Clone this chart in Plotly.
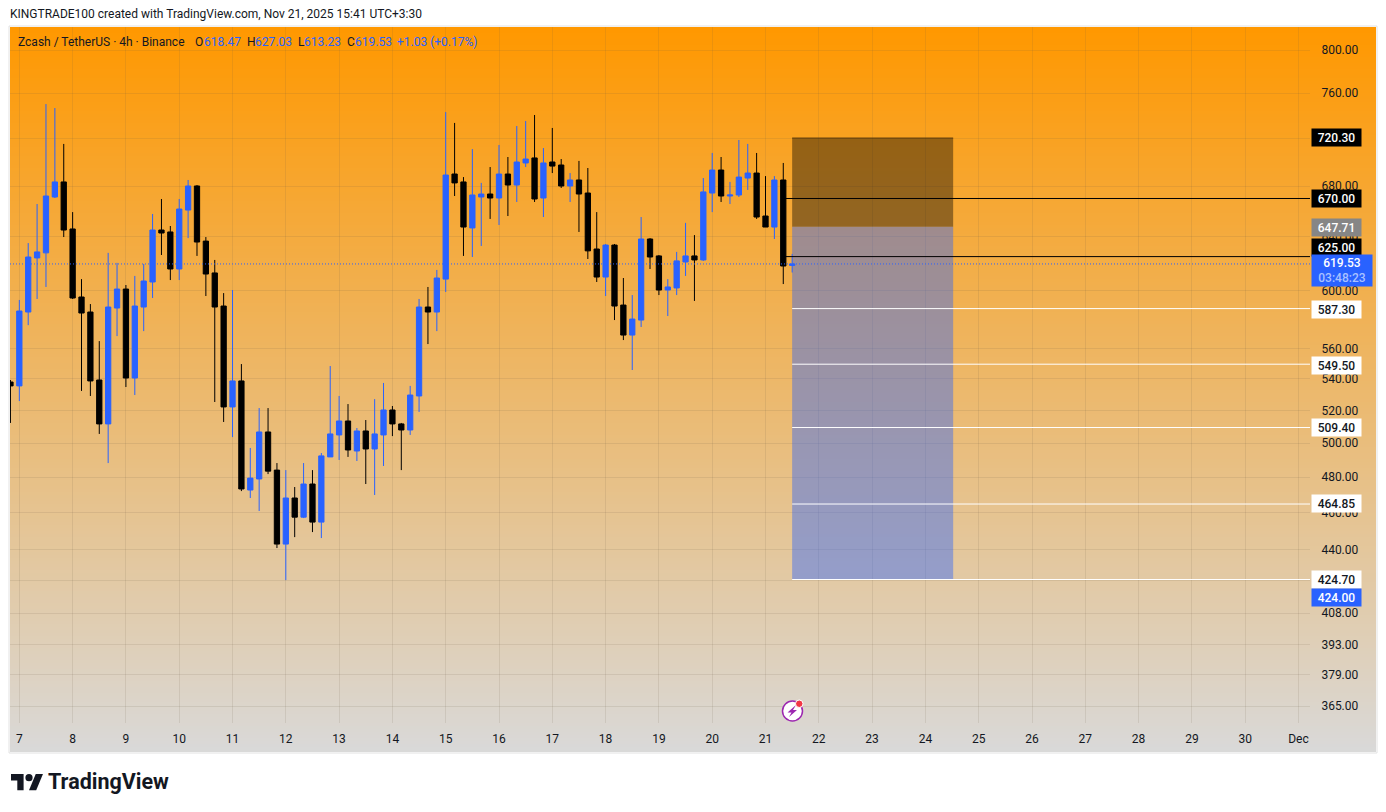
import plotly.graph_objects as go
import pandas as pd

START = "2025-11-06 20:00"
open_ = [537.9,535.4,584.9,624.0,627.8,671.2,683.4,646.0,595.5,584.9,539.2,511.6,587.7,601.2,540.5,588.4,606.3,645.2,643.7,615.8,660.8,680.1,636.7,612.9,589.1,
522.1,538.6,472.7,479.0,506.7,484.1,443.1,468.2,457.6,476.1,454.9,491.8,504.9,513.4,495.3,507.3,496.5,504.9,520.2,511.6,507.9,529.0,588.4,584.9,
608.4,689.9,683.4,646.8,671.2,673.6,670.4,689.9,680.9,699.1,703.3,670.4,699.9,697.4,680.1,685.0,674.4,630.7,609.9,633.7,589.8,569.0,579.3,638.3,625.5,600.5,602.0,621.0,625.5,622.5,674.4,693.2,672.0,672.8,686.6,690.7,656.1,647.5,685.0,618.47]
high = [539.2,593.4,635.2,665.6,750.2,746.6,715.2,659.2,608.4,590.5,564.9,627.8,620.3,604.1,610.7,619.5,657.7,669.6,648.3,669.6,685.0,680.9,639.8,622.5,598.3,
600.5,549.6,497.1,521.4,521.4,488.2,484.1,474.4,488.2,484.1,494.1,548.3,529.0,523.9,509.1,514.0,527.0,537.3,522.7,512.2,535.4,594.1,602.7,615.1,
743.0,733.4,687.4,710.8,682.6,695.7,714.3,704.1,730.7,735.1,740.4,711.7,729.0,702.4,690.7,700.8,694.9,659.2,634.5,634.5,609.2,596.9,655.3,639.0,626.2,608.4,628.5,650.7,641.3,686.6,707.5,704.1,683.4,718.6,715.2,707.5,688.2,688.2,699.1,627.03]
low = [512.2,525.8,575.8,594.1,602.7,670.4,639.8,594.1,532.2,529.0,505.5,488.2,568.3,534.7,529.6,571.7,594.8,626.2,607.7,607.7,639.0,625.5,596.2,525.2,512.8,
503.6,472.1,468.2,461.0,481.8,441.0,424.4,446.8,457.1,449.5,446.3,491.8,490.0,491.8,489.4,476.1,469.9,486.5,504.2,484.1,504.9,519.0,562.9,571.7,
599.1,672.0,625.5,624.7,633.0,653.8,649.1,656.1,667.2,695.7,667.2,655.3,690.7,678.5,667.2,643.7,623.2,606.3,596.2,579.3,565.6,545.7,574.5,615.8,596.9,582.1,596.9,610.7,592.7,621.8,659.2,667.2,665.6,671.2,676.9,653.8,647.5,638.3,604.8,613.23]
close = [535.4,585.6,624.7,628.5,672.0,683.4,645.2,594.8,584.2,538.6,511.6,588.4,601.2,540.5,589.1,607.0,645.2,642.9,615.8,661.6,680.1,636.0,612.1,588.4,522.1,
538.6,473.3,479.5,506.7,483.5,443.1,468.2,457.6,476.1,454.9,492.4,505.5,513.4,495.9,507.3,496.5,505.5,520.2,511.6,507.9,529.6,588.4,584.9,609.2,
689.1,682.6,647.5,672.8,673.6,670.4,689.9,680.9,699.9,702.4,669.6,699.1,696.5,680.1,685.0,673.6,629.3,609.9,633.7,589.1,569.0,580.0,638.3,624.7,600.5,602.7,621.8,625.5,622.5,675.3,693.2,672.0,672.8,687.4,690.7,655.3,647.5,685.0,618.0,619.53]

times = pd.date_range(START, periods=len(open_), freq="4h")

price_ticks = [800,760,720,680,640,600,560,540,520,500,480,460,440,424,408,393,379,365]
hidden_ticks = [720, 424]
day_ticks = pd.date_range("2025-11-07", "2025-12-01", freq="D")
day_labels = [str(d.day) for d in day_ticks[:-1]] + ["Dec"]

BLUE, BLACK = "#2962FF", "#000000"
L, R, T, B = 10, 1310, 27, 723
W, H = 1386, 812
px = lambda x: (x - L) / (R - L)
py = lambda y: (B - y) / (B - T)

fig = go.Figure(go.Candlestick(
    x=times, open=open_, high=high, low=low, close=close,
    increasing=dict(line=dict(color=BLUE, width=1), fillcolor=BLUE),
    decreasing=dict(line=dict(color=BLACK, width=1), fillcolor=BLACK),
    whiskerwidth=0, showlegend=False, hoverinfo="skip"))

shapes = []
# background gradient (painter-style bands)
top_c, bot_c = (255, 152, 0), (217, 217, 217)
FT, FB, FL, FR = 27, 752, 10, 1376
for y in range(FT, FB, 3):
    f = (y - FT) / (FB - FT)
    c = tuple(round(a + (b - a) * f) for a, b in zip(top_c, bot_c))
    shapes.append(dict(type="rect", xref="paper", yref="paper", layer="below",
                       x0=px(FL), x1=px(FR), y0=py(y), y1=py(FB),
                       line=dict(width=0), fillcolor=f"rgb{c}"))
shapes.append(dict(type="rect", xref="paper", yref="paper", layer="below",
                   x0=px(FL - 1), x1=px(FR + 1), y0=py(FT - 1), y1=py(FB + 1),
                   line=dict(width=1, color="#e2e2e2"), fillcolor="rgba(0,0,0,0)"))

ZX0, ZX1 = "2025-11-21 12:00", "2025-11-24 12:30"
def dline(price, x0, color, width=1):
    return dict(type="line", xref="x", yref="y", x0=x0, x1="2025-12-01 05:11",
                y0=price, y1=price, line=dict(color=color, width=width))

shapes += [
    dict(type="rect", xref="x", yref="y", x0=ZX0, x1=ZX1, y0=647.71, y1=720.3,
         fillcolor="rgba(0,0,0,0.40)", line=dict(width=0)),
    dict(type="rect", xref="x", yref="y", x0=ZX0, x1=ZX1, y0=424.7, y1=647.71,
         fillcolor="rgba(41,98,255,0.42)", line=dict(width=0)),
    dict(type="line", xref="x", yref="y", x0=ZX0, x1=ZX1, y0=720.3, y1=720.3,
         line=dict(color="rgba(80,50,10,0.8)", width=1)),
    dict(type="line", xref="x", yref="y", x0="2025-11-06 19:48", x1="2025-12-01 05:11",
         y0=619.53, y1=619.53, line=dict(color=BLUE, width=1, dash="1px,2px")),
    dline(670, "2025-11-21 08:30", "#000000"),
    dline(625, "2025-11-21 08:30", "#000000"),
]
for p in [587.3, 549.5, 509.4, 464.85, 424.7]:
    shapes.append(dline(p, ZX0, "#ffffff"))

# TradingView logo
s = 0.9; ox, oy = 11, 770.5
def lx(v): return px(ox + v * s)
def ly(v): return py(oy + v * s)
def poly(pts):
    return "M" + " L".join(f"{lx(a):.5f},{ly(b):.5f}" for a, b in pts) + " Z"
shapes += [
    dict(type="path", xref="paper", yref="paper", fillcolor="#131722", line=dict(width=0),
         path=poly([(0,4),(14,4),(14,22),(7,22),(7,11),(0,11)])),
    dict(type="path", xref="paper", yref="paper", fillcolor="#131722", line=dict(width=0),
         path=poly([(27.5,4),(35.5,4),(28,22),(20,22)])),
    dict(type="circle", xref="paper", yref="paper", fillcolor="#131722", line=dict(width=0),
         x0=lx(16), x1=lx(24), y0=ly(12), y1=ly(4)),
    # lightning marker
    dict(type="circle", xref="paper", yref="paper", fillcolor="#ffffff",
         line=dict(color="#9C27B0", width=1.5), x0=px(782.5), x1=px(802.5), y0=py(721), y1=py(701)),
    dict(type="path", xref="paper", yref="paper", fillcolor="#9C27B0", line=dict(width=0),
         path="M" + " L".join(f"{px(a):.5f},{py(b):.5f}" for a, b in
                              [(796,705),(787.5,712.5),(791.5,712.5),(789,717),(797,710),(793,710)]) + " Z"),
    dict(type="circle", xref="paper", yref="paper", fillcolor="#F23645", line=dict(color="#ffffff", width=1),
         x0=px(795.5), x1=px(803), y0=py(707.5), y1=py(700)),
]

FONT = "Roboto, Arial, sans-serif"
ann = []
def label(txt, y, bg, fg, w=49, h=17):
    ann.append(dict(xref="paper", yref="paper", x=px(1311), y=py(y), xanchor="left", yanchor="middle",
                    text=txt, showarrow=False, bgcolor=bg, width=w, height=h, align="center", valign="middle",
                    borderpad=0, font=dict(family=FONT, size=12, color=fg, weight=500)))
label("720.30", 138, "#000000", "#ffffff")
label("670.00", 199, "#000000", "#ffffff")
label("647.71", 227, "#868686", "#ffffff")
label("625.00", 247, "#000000", "#ffffff")
label("619.53<br><span style='color:#a9c1ff'>03:48:23</span>", 270.5, BLUE, "#ffffff", w=60, h=31)
label("587.30", 309, "#ffffff", "#131722")
label("549.50", 365, "#ffffff", "#131722")
label("509.40", 427, "#ffffff", "#131722")
label("464.85", 504, "#ffffff", "#131722")
label("424.70", 579, "#ffffff", "#131722")
label("424.00", 597, BLUE, "#ffffff")

def text(x, y, t, size=12, color="#131722", weight=None):
    ann.append(dict(xref="paper", yref="paper", x=px(x), y=py(y), xanchor="left", yanchor="middle",
                    text=t, showarrow=False, font=dict(family=FONT, size=size, color=color, weight=weight)))
text(8, 14, "KINGTRADE100 created with TradingView.com, Nov 21, 2025 15:41 UTC+3:30", 12)
text(16, 42, "Zcash / TetherUS · 4h · Binance", 12)
OHLC = BLUE
text(193, 42, "O", 12); text(202, 42, "618.47", 12, OHLC)
text(245, 42, "H", 12); text(253, 42, "627.03", 12, OHLC)
text(296, 42, "L", 12); text(302, 42, "613.23", 12, OHLC)
text(345, 42, "C", 12); text(353, 42, "619.53", 12, OHLC)
text(395, 42, "+1.03 (+0.17%)", 12, OHLC)
text(46, 782, "TradingView", 21.5, "#131722", "bold")

GRID = "rgba(110,90,70,0.13)"
fig.update_layout(
    width=W, height=H, autosize=False, paper_bgcolor="#ffffff", plot_bgcolor="rgba(0,0,0,0)",
    margin=dict(l=L, r=W - R, t=T, b=H - B), boxgap=0.15,
    font=dict(family=FONT, size=12, color="#131722"),
    shapes=shapes, annotations=ann, showlegend=False,
    xaxis=dict(type="date", range=["2025-11-06 19:48", "2025-12-01 05:11"], rangeslider=dict(visible=False),
               tickmode="array", tickvals=list(day_ticks), ticktext=day_labels,
               showgrid=True, gridcolor=GRID, gridwidth=1, zeroline=False, showline=False,
               ticks="outside", ticklen=5, tickcolor="rgba(0,0,0,0)", tickfont=dict(size=12, color="#131722")),
    yaxis=dict(type="log", range=[2.55352, 2.91519], side="right",
               tickmode="array", tickvals=price_ticks,
               ticktext=["" if p in hidden_ticks else f"{p:.2f}" for p in price_ticks],
               showgrid=True, gridcolor=GRID, gridwidth=1, zeroline=False, showline=False,
               ticks="outside", ticklen=8, tickcolor="rgba(0,0,0,0)", tickfont=dict(size=12, color="#131722")),
)

fig.write_html("out.html", config=dict(displayModeBar=False),
               post_script="document.body.style.margin='0';document.documentElement.style.overflow='hidden';")
